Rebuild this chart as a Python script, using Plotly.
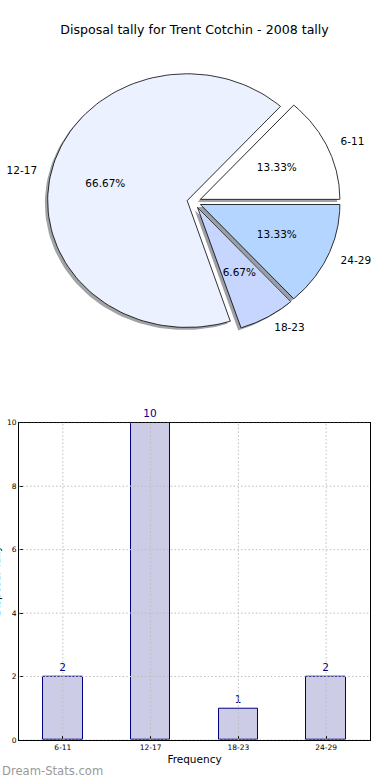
import numpy as np
import plotly.graph_objects as go

# ---------------- data ----------------
categories = ["6-11", "12-17", "18-23", "24-29"]
tally = [2, 10, 1, 2]
slice_colors = ["#ffffff", "#ebf1ff", "#c6d6ff", "#b3d5ff"]
explode = [0.05, 0.05, 0.05, 0.05]
y_ticks = [0, 2, 4, 6, 8, 10]
title_text = "Disposal tally for Trent Cotchin - 2008 tally"
x_title = "Frequency"
y_title = "Disposal Tally"
watermark = "Dream-Stats.com"

# ---------------- layout geometry ----------------
W, H = 390, 780
ML, MR, MT, MB = 19, 20, 0, 40
PW, PH = W - ML - MR, H - MT - MB
FONT = "DejaVu Sans"

# pie axes (elliptical, like an un-equal-aspect matplotlib pie)
cx, cy, rx, ry = 194, 199, 139.5, 127.5
pie_top, pie_bot = 40, 360
x2_range = [(ML - cx) / rx, (ML + PW - cx) / rx]
y2_range = [(cy - pie_bot) / ry, (cy - pie_top) / ry]
y2_domain = [(PH - (pie_bot - MT)) / PH, (PH - (pie_top - MT)) / PH]
bar_top = 421
y1_domain = [0, (PH - (bar_top - MT)) / PH]

fig = go.Figure()

# ---------------- pie as filled wedges ----------------
vals = np.array(tally, dtype=float)
fracs = vals / vals.sum()
start = 0.0
pct_x, pct_y, pct_t = [], [], []
lab_x, lab_y, lab_pos = [], [], []
for i, f in enumerate(fracs):
    t1 = start
    t2 = start + 360.0 * f
    mid = np.deg2rad((t1 + t2) / 2)
    ox, oy = explode[i] * np.cos(mid), explode[i] * np.sin(mid)
    arc = np.deg2rad(np.linspace(t1, t2, 120))
    xs = np.concatenate([[ox], ox + np.cos(arc), [ox]])
    ys = np.concatenate([[oy], oy + np.sin(arc), [oy]])
    # shadow
    h = slice_colors[i].lstrip("#")
    r, g, b = (int(h[k:k + 2], 16) for k in (0, 2, 4))
    fig.add_trace(go.Scatter(
        x=xs - 0.02, y=ys - 0.02, xaxis="x2", yaxis="y2", mode="lines",
        fill="toself", fillcolor=f"rgba({int(0.3*r)},{int(0.3*g)},{int(0.3*b)},0.5)",
        line=dict(width=0), hoverinfo="skip", showlegend=False))
    fig.add_trace(go.Scatter(
        x=xs, y=ys, xaxis="x2", yaxis="y2", mode="lines",
        fill="toself", fillcolor=slice_colors[i],
        line=dict(color="black", width=0.8), hoverinfo="skip", showlegend=False))
    pct_x.append(ox + 0.6 * np.cos(mid))
    pct_y.append(oy + 0.6 * np.sin(mid))
    pct_t.append(f"{100 * f:.2f}%")
    lx = ox + 1.1 * np.cos(mid)
    lab_x.append(lx)
    lab_y.append(oy + 1.1 * np.sin(mid))
    lab_pos.append("middle right" if lx > 0 else "middle left")
    start = t2

fig.add_trace(go.Scatter(
    x=pct_x, y=pct_y, text=pct_t, mode="text", xaxis="x2", yaxis="y2",
    textposition="middle center", textfont=dict(family=FONT, size=10.5, color="black"),
    hoverinfo="skip", showlegend=False, cliponaxis=False))
fig.add_trace(go.Scatter(
    x=lab_x, y=lab_y, text=categories, mode="text", xaxis="x2", yaxis="y2",
    textposition=lab_pos, textfont=dict(family=FONT, size=10.5, color="black"),
    hoverinfo="skip", showlegend=False, cliponaxis=False))

# ---------------- bar chart ----------------
fig.add_trace(go.Bar(
    x=categories, y=tally, width=0.45,
    marker=dict(color="#ccccE6", line=dict(color="#000080", width=1)),
    text=[str(v) for v in tally], textposition="outside",
    outsidetextfont=dict(family=FONT, size=10.5, color="#00008b"),
    cliponaxis=False, hoverinfo="skip", showlegend=False))

grid_style = dict(color="#bdbdbd", width=1, dash="1.5px,2.2px")
shapes = []
for c in categories:
    shapes.append(dict(type="line", xref="x", yref="y domain", x0=c, x1=c, y0=0, y1=1,
                       line=grid_style, layer="above"))
for t in y_ticks:
    shapes.append(dict(type="line", xref="x domain", yref="y", x0=0, x1=1, y0=t, y1=t,
                       line=grid_style, layer="above"))

fig.update_layout(
    width=W, height=H,
    margin=dict(l=ML, r=MR, t=MT, b=MB),
    paper_bgcolor="white", plot_bgcolor="white",
    font=dict(family=FONT, color="black"),
    title=dict(text=title_text, x=0.5, xref="paper", y=1 - 30 / H, yref="container",
               xanchor="center", yanchor="middle", font=dict(family=FONT, size=12.6, color="black")),
    xaxis=dict(domain=[0, 1], range=[-0.5, 3.5], showline=True, mirror=True, linecolor="black",
               linewidth=1, ticks="inside", ticklen=4, tickcolor="black", showgrid=False,
               tickfont=dict(family=FONT, size=7.5), zeroline=False, fixedrange=True,
               title=dict(text=x_title, font=dict(family=FONT, size=10.5), standoff=4)),
    yaxis=dict(domain=y1_domain, range=[0, 10], tickvals=y_ticks, showline=True, mirror=True,
               linecolor="black", linewidth=1, ticks="inside", ticklen=4, tickcolor="black",
               showgrid=False, zeroline=False, tickfont=dict(family=FONT, size=7.5), fixedrange=True),
    xaxis2=dict(domain=[0, 1], range=x2_range, visible=False, fixedrange=True, anchor="y2"),
    yaxis2=dict(domain=y2_domain, range=y2_range, visible=False, fixedrange=True, anchor="x2"),
    shapes=shapes,
    bargap=0,
    annotations=[
        dict(text=y_title, xref="paper", yref="y domain", x=0, y=0.5, xshift=-ML - 4,
             xanchor="center", yanchor="middle", textangle=-90, showarrow=False,
             font=dict(family=FONT, size=10.5, color="black")),
        dict(text=watermark, xref="paper", yref="paper", x=0, xshift=-ML, y=(PH - (771 - MT)) / PH,
             xanchor="left", yanchor="middle", showarrow=False,
             font=dict(family=FONT, size=11.6, color="#999999")),
    ],
)

fig.write_html("out.html", config={"displayModeBar": False},
               post_script="document.body.style.margin='0';document.body.style.padding='0';")
